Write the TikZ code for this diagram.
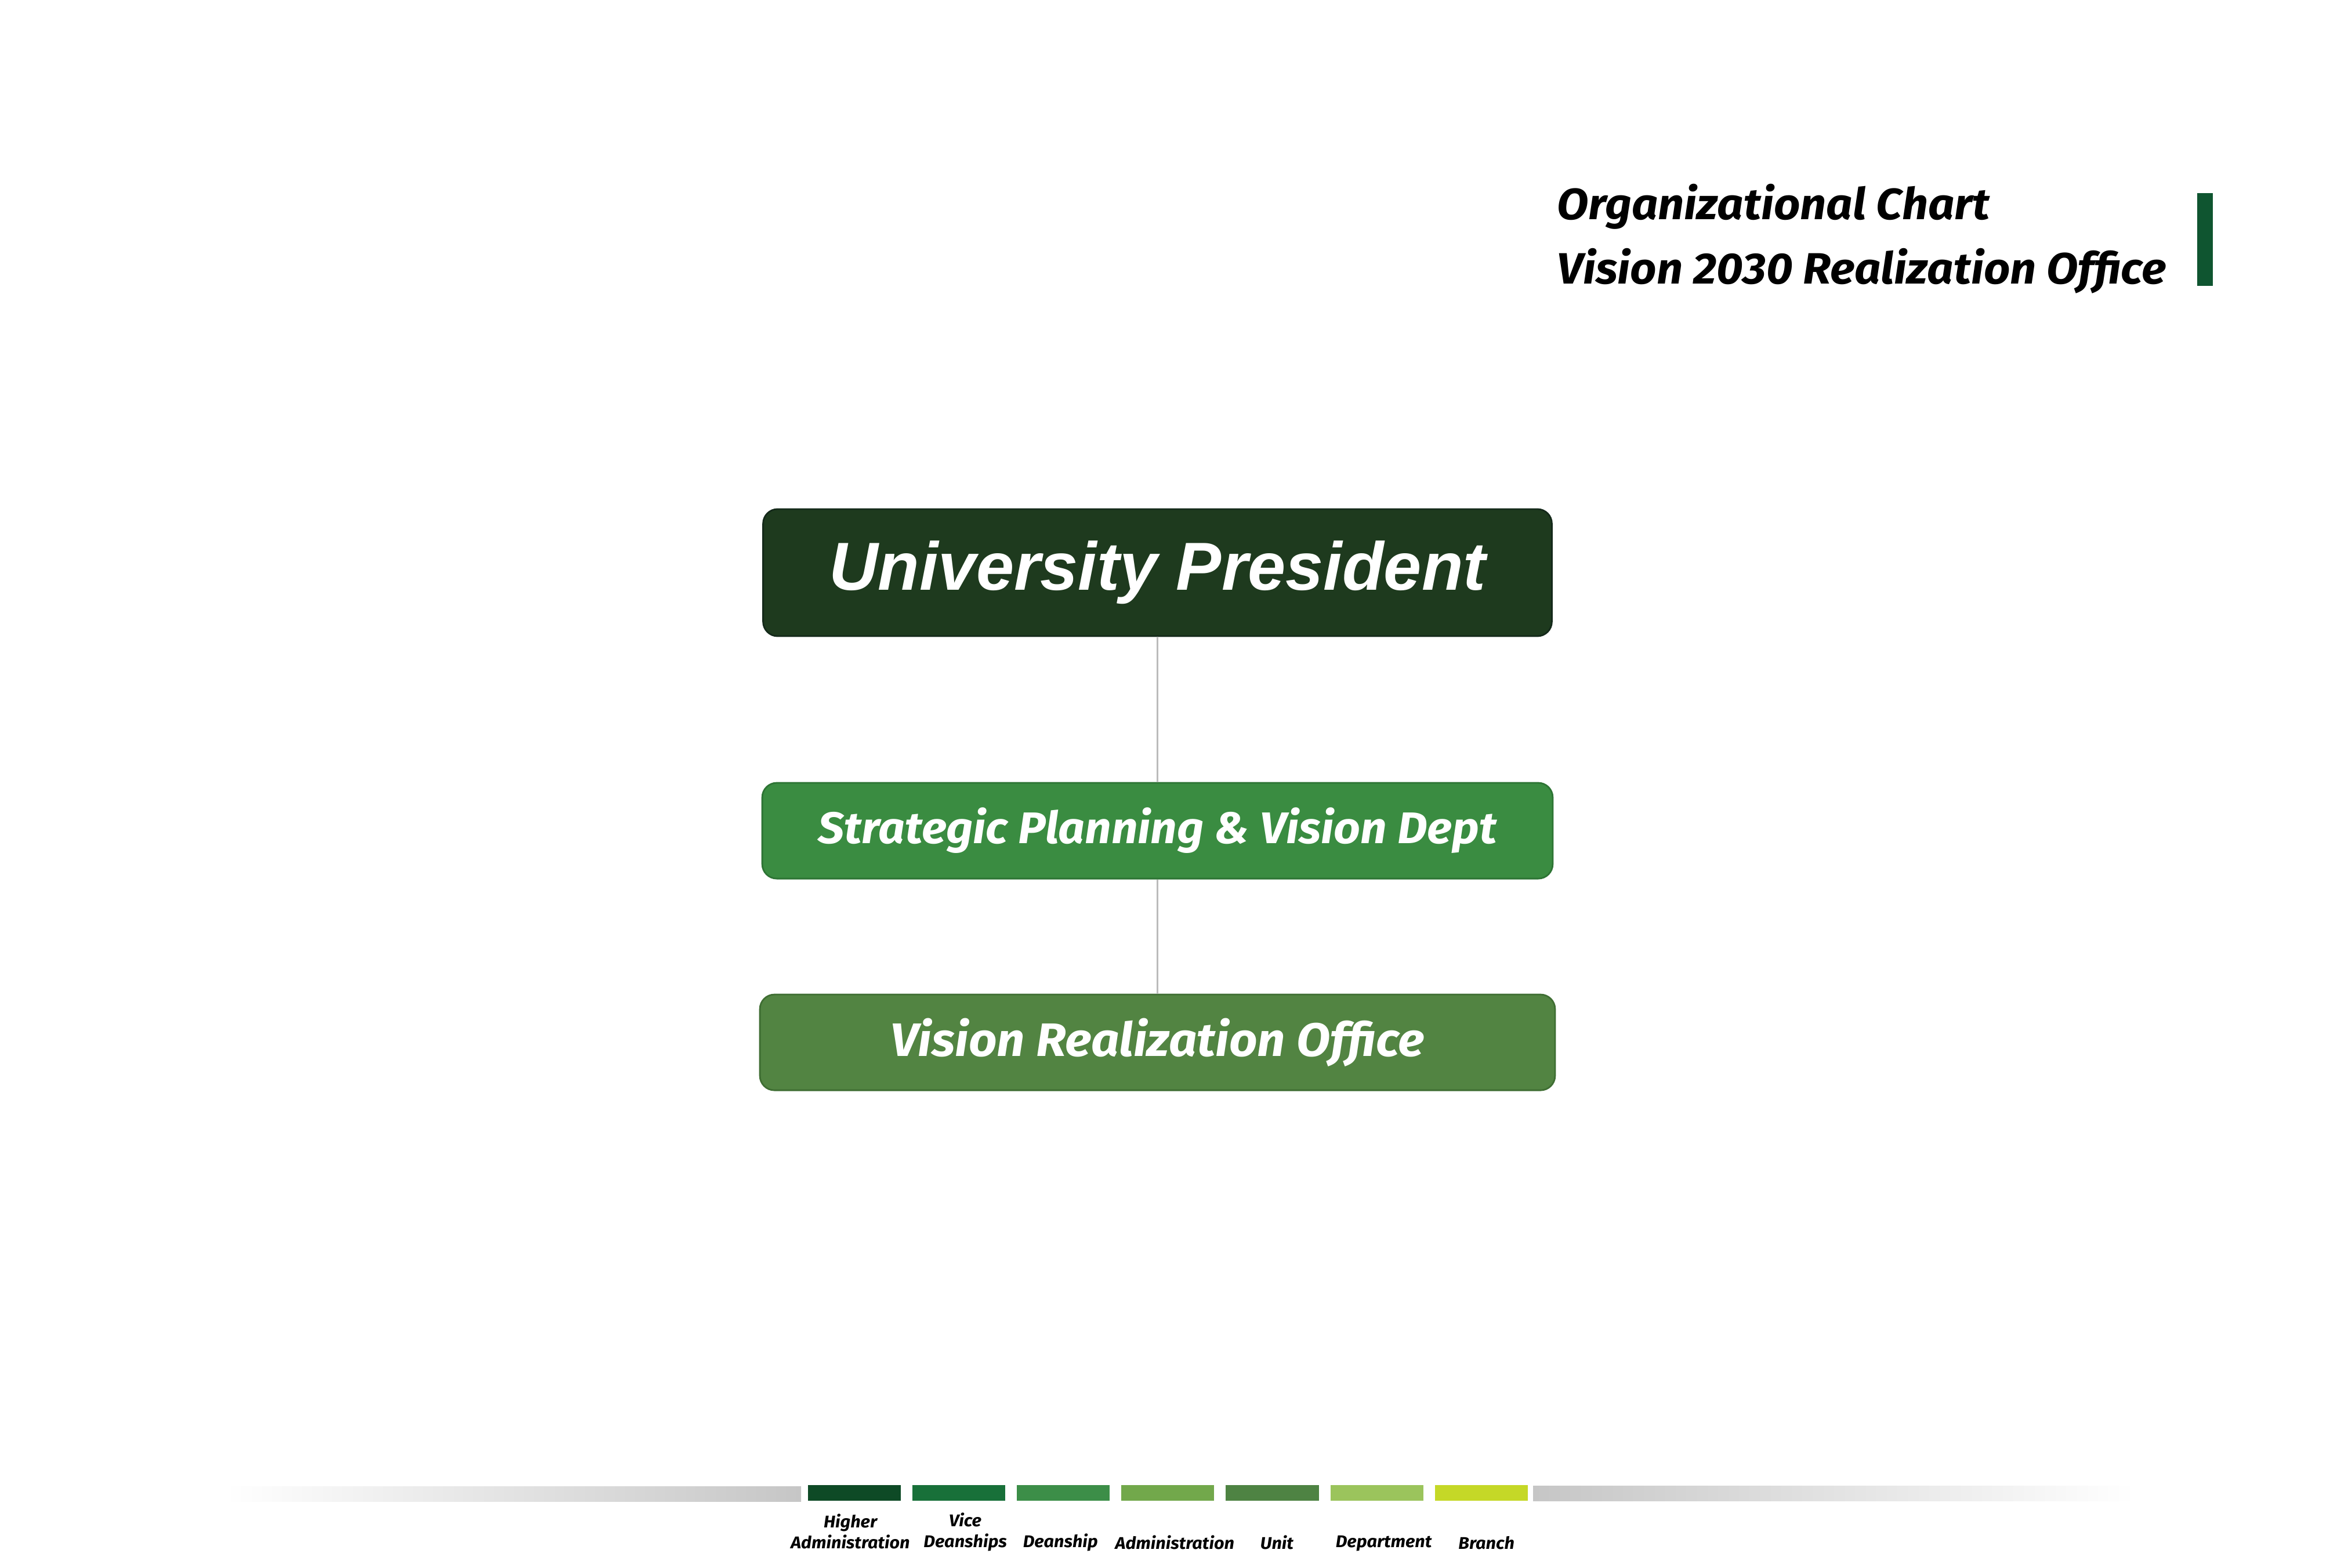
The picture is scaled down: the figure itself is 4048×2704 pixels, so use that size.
\documentclass[tikz,border=0pt]{standalone}
\usepackage{fontspec}
\setmainfont{Fira Sans}
\newfontfamily\presfont{Liberation Sans}
\newfontfamily\boxfont[FakeStretch=1.05]{Fira Sans}
\usetikzlibrary{positioning}

\definecolor{presgreen}{HTML}{1E3A1E}
\definecolor{presedge}{HTML}{14291A}
\definecolor{deptgreen}{HTML}{3A8C41}
\definecolor{deptedge}{HTML}{2D7434}
\definecolor{officegreen}{HTML}{528442}
\definecolor{officeedge}{HTML}{3F6E33}
\definecolor{titlegreen}{HTML}{0F5530}
\definecolor{linkgray}{HTML}{BBBBBB}
\definecolor{bargray}{HTML}{C6C6C6}
\definecolor{higheradm}{HTML}{0E4A26}
\definecolor{vicedean}{HTML}{187039}
\definecolor{deanship}{HTML}{3C8E48}
\definecolor{administ}{HTML}{72A84B}
\definecolor{unitcol}{HTML}{4E8343}
\definecolor{deptcol}{HTML}{9BC45C}
\definecolor{branchcol}{HTML}{C5D827}

\tikzstyle{box} = [rectangle, rounded corners=0.25cm, text=white, line width=0.8pt, inner sep=0pt]
\tikzstyle{link} = [draw=linkgray, line width=0.9pt]
\tikzstyle{swatch} = [rectangle, minimum width=1.6cm, minimum height=0.27cm, inner sep=0pt]
\tikzstyle{legendtext} = [font=\boxfont\bfseries\itshape\fontsize{8.3}{10}\selectfont, align=center, anchor=south, inner sep=0pt, text depth=0pt]
\tikzstyle{titletext} = [font=\boxfont\bfseries\itshape\fontsize{21.5}{26}\selectfont, anchor=base west, inner sep=0pt]

\begin{document}
\begin{tikzpicture}[x=0.01cm, y=-0.01cm, node distance=0.186cm]

\useasboundingbox (0,0) rectangle (4048,2704);

% heading top right
\node (title) [titletext] at (2684,379) {Organizational Chart};
\node (subtitle) [titletext] at (2684,490) {Vision 2030 Realization Office};
\fill[titlegreen] (3788,333) rectangle (3815,493);

% the three levels
\node (president) [box, fill=presgreen, draw=presedge, minimum width=13.59cm, minimum height=2.19cm, font=\presfont\bfseries\itshape\fontsize{33.3}{40}\selectfont] at (1995.5,987.5) {University President};

\node (dept) [box, fill=deptgreen, draw=deptedge, minimum width=13.62cm, minimum height=1.65cm, below=2.5cm of president, font=\boxfont\bfseries\itshape\fontsize{21.7}{26}\selectfont] {Strategic Planning \& Vision Dept};

\node (office) [box, fill=officegreen, draw=officeedge, minimum width=13.7cm, minimum height=1.65cm, below=1.97cm of dept, font=\boxfont\bfseries\itshape\fontsize{23}{28}\selectfont] {Vision Realization Office};

\draw[link] (president) -- (dept);
\draw[link] (dept) -- (office);

% legend
\shade[left color=white, right color=bargray] (390,2563) rectangle (1381,2589);
\shade[left color=bargray, right color=white] (2643,2562) rectangle (3680,2588);

\node (higher) [swatch, fill=higheradm] at (1473,2574.5) {};
\node (vice) [swatch, fill=vicedean, right=of higher] {};
\node (dean) [swatch, fill=deanship, right=of vice] {};
\node (admin) [swatch, fill=administ, right=of dean] {};
\node (unit) [swatch, fill=unitcol, right=of admin] {};
\node (department) [swatch, fill=deptcol, right=of unit] {};
\node (branch) [swatch, fill=branchcol, right=of department] {};

\node (higherlbl) [legendtext] at ([xshift=-0.07cm, yshift=-0.82cm]higher.south) {Higher\\Administration};
\node (vicelbl) [legendtext] at ([xshift=0.11cm, yshift=-0.8cm]vice.south) {Vice\\Deanships};
\node (deanlbl) [legendtext] at ([xshift=-0.05cm, yshift=-0.8cm]dean.south) {Deanship};
\node (adminlbl) [legendtext] at ([xshift=0.12cm, yshift=-0.83cm]admin.south) {Administration};
\node (unitlbl) [legendtext] at ([xshift=0.08cm, yshift=-0.83cm]unit.south) {Unit};
\node (departmentlbl) [legendtext] at ([xshift=0.12cm, yshift=-0.8cm]department.south) {Department};
\node (branchlbl) [legendtext] at ([xshift=0.09cm, yshift=-0.83cm]branch.south) {Branch};

\end{tikzpicture}
\end{document}
